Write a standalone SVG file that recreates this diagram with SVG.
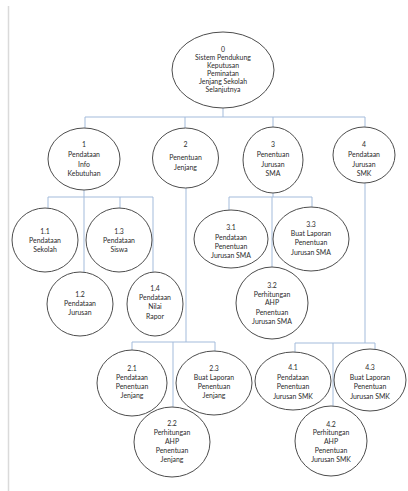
<svg xmlns="http://www.w3.org/2000/svg" width="408" height="491" viewBox="0 0 408 491">
  <style>
    .bg { fill: #ffffff; }
    .edge { stroke: #dadada; stroke-width: 1.5; fill: none; }
    .conn { stroke: #a3bbdb; stroke-width: 1; fill: none; }
    .proc { fill: #ffffff; stroke: #4d4d4d; stroke-width: 1; }
    text { font-family: Lato, "Open Sans", sans-serif; font-size: 6.9px; fill: #2b2b2b; text-anchor: middle; }
  </style>
  <rect class="bg" x="0" y="0" width="408" height="491"/>
  <line class="edge" x1="8.5" y1="6" x2="8.5" y2="491"/>

  <g id="connectors">
    <path class="conn" d="M223 108 V117 M85 117 H365 M85 117 V128 M185 117 V128 M273 117 V128 M365 117 V127"/>
    <path class="conn" d="M84 190 V197 M48 197 H153 M48 197 V208 M84 197 V272 M120 197 V208 M153 197 V272"/>
    <path class="conn" d="M186 188 V342 M132 342 H215 M132 342 V350 M173 342 V407 M215 342 V351"/>
    <path class="conn" d="M273 193 V197 M229 197 H312 M229 197 V210 M272 197 V267 M312 197 V207"/>
    <path class="conn" d="M365 182 V343 M295 343 H375 M295 343 V352 M333 343 V407 M375 343 V349"/>
  </g>

  <g id="node-0">
    <ellipse class="proc" cx="223" cy="70" rx="51" ry="38"/>
    <text x="223" y="52">0</text>
    <text x="223" y="60">Sistem Pendukung</text>
    <text x="223" y="68">Keputusan</text>
    <text x="223" y="75.5">Peminatan</text>
    <text x="223" y="83.5">Jenjang Sekolah</text>
    <text x="223" y="91.5">Selanjutnya</text>
  </g>

  <g id="node-1">
    <ellipse class="proc" cx="84" cy="159" rx="36" ry="31"/>
    <text x="84" y="147">1</text>
    <text x="84" y="157">Pendataan</text>
    <text x="84" y="166.5">Info</text>
    <text x="84" y="176">Kebutuhan</text>
  </g>
  <g id="node-2">
    <ellipse class="proc" cx="185.5" cy="158" rx="33" ry="30"/>
    <text x="185.5" y="147">2</text>
    <text x="185.5" y="160">Penentuan</text>
    <text x="185.5" y="170">Jenjang</text>
  </g>
  <g id="node-3">
    <ellipse class="proc" cx="273" cy="160" rx="30" ry="33"/>
    <text x="273" y="147">3</text>
    <text x="273" y="157">Penentuan</text>
    <text x="273" y="166.5">Jurusan</text>
    <text x="273" y="176">SMA</text>
  </g>
  <g id="node-4">
    <ellipse class="proc" cx="364" cy="155" rx="31" ry="28"/>
    <text x="364" y="147">4</text>
    <text x="364" y="157">Pendataan</text>
    <text x="364" y="166.5">Jurusan</text>
    <text x="364" y="176">SMK</text>
  </g>

  <g id="node-1-1">
    <ellipse class="proc" cx="45" cy="240" rx="33" ry="32"/>
    <text x="45" y="234">1.1</text>
    <text x="45" y="243">Pendataan</text>
    <text x="45" y="252">Sekolah</text>
  </g>
  <g id="node-1-3">
    <ellipse class="proc" cx="119" cy="240" rx="33" ry="32"/>
    <text x="119" y="234">1.3</text>
    <text x="119" y="243">Pendataan</text>
    <text x="119" y="252">Siswa</text>
  </g>
  <g id="node-1-2">
    <ellipse class="proc" cx="80" cy="304" rx="33" ry="32"/>
    <text x="80" y="297">1.2</text>
    <text x="80" y="306">Pendataan</text>
    <text x="80" y="315">Jurusan</text>
  </g>
  <g id="node-1-4">
    <ellipse class="proc" cx="155" cy="304" rx="28" ry="32"/>
    <text x="155" y="291">1.4</text>
    <text x="155" y="300">Pendataan</text>
    <text x="155" y="309">Nilai</text>
    <text x="155" y="319">Rapor</text>
  </g>

  <g id="node-3-1">
    <ellipse class="proc" cx="231" cy="239" rx="37" ry="29"/>
    <text x="231" y="230">3.1</text>
    <text x="231" y="240">Pendataan</text>
    <text x="231" y="249">Penentuan</text>
    <text x="231" y="258">Jurusan SMA</text>
  </g>
  <g id="node-3-3">
    <ellipse class="proc" cx="311" cy="239" rx="38" ry="32"/>
    <text x="311" y="227">3.3</text>
    <text x="311" y="236">Buat Laporan</text>
    <text x="311" y="245">Penentuan</text>
    <text x="311" y="255">Jurusan SMA</text>
  </g>
  <g id="node-3-2">
    <ellipse class="proc" cx="272" cy="303" rx="36" ry="36"/>
    <text x="272" y="288">3.2</text>
    <text x="272" y="297">Perhitungan</text>
    <text x="272" y="305">AHP</text>
    <text x="272" y="315">Penentuan</text>
    <text x="272" y="324">Jurusan SMA</text>
  </g>

  <g id="node-2-1">
    <ellipse class="proc" cx="132" cy="383" rx="35" ry="33"/>
    <text x="132" y="371">2.1</text>
    <text x="132" y="380">Pendataan</text>
    <text x="132" y="389">Penentuan</text>
    <text x="132" y="398">Jenjang</text>
  </g>
  <g id="node-2-3">
    <ellipse class="proc" cx="214" cy="383" rx="38" ry="32"/>
    <text x="214" y="371">2.3</text>
    <text x="214" y="380">Buat Laporan</text>
    <text x="214" y="389">Penentuan</text>
    <text x="214" y="398">Jenjang</text>
  </g>
  <g id="node-2-2">
    <ellipse class="proc" cx="172" cy="442" rx="38" ry="35"/>
    <text x="172" y="426">2.2</text>
    <text x="172" y="435">Perhitungan</text>
    <text x="172" y="444">AHP</text>
    <text x="172" y="453">Penentuan</text>
    <text x="172" y="462">Jenjang</text>
  </g>

  <g id="node-4-1">
    <ellipse class="proc" cx="293" cy="381" rx="38" ry="29"/>
    <text x="293" y="370">4.1</text>
    <text x="293" y="380">Pendataan</text>
    <text x="293" y="389">Penentuan</text>
    <text x="293" y="399">Jurusan SMK</text>
  </g>
  <g id="node-4-3">
    <ellipse class="proc" cx="370" cy="380" rx="36" ry="31"/>
    <text x="370" y="370">4.3</text>
    <text x="370" y="380">Buat Laporan</text>
    <text x="370" y="389">Penentuan</text>
    <text x="370" y="399">Jurusan SMK</text>
  </g>
  <g id="node-4-2">
    <ellipse class="proc" cx="331" cy="441" rx="36" ry="35"/>
    <text x="331" y="427">4.2</text>
    <text x="331" y="435">Perhitungan</text>
    <text x="331" y="444">AHP</text>
    <text x="331" y="453">Penentuan</text>
    <text x="331" y="462">Jurusan SMK</text>
  </g>
</svg>
